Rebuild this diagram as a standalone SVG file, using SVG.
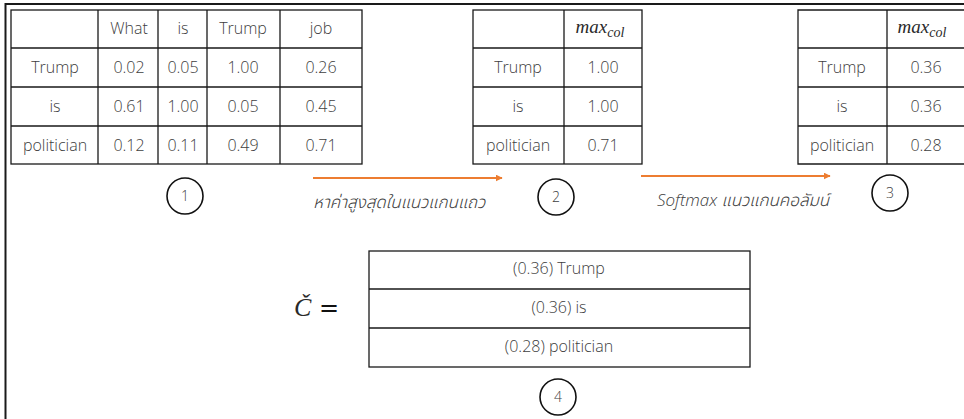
<svg xmlns="http://www.w3.org/2000/svg" width="964" height="419" viewBox="0 0 964 419" overflow="hidden">
  <defs>
    <marker id="arrowhead" viewBox="0 0 10 10" refX="9" refY="5" markerWidth="7" markerHeight="7" markerUnits="userSpaceOnUse" orient="auto">
      <path d="M0,0 L10,5 L0,10 z" fill="#ED7D31"/>
    </marker>
    <style>
      .grid { fill: none; stroke: #1a1a1a; stroke-width: 1.3; }
      .cell { font-family: "Open Sans", "Noto Sans", "Noto Sans Thai", sans-serif; font-weight: 300; font-size: 16px; fill: #404040; text-anchor: middle; }
      .math { font-family: "Liberation Serif", serif; font-style: italic; font-weight: normal; fill: #2a2a2a; }
      .caption { font-family: "Open Sans", "Noto Sans", "Noto Sans Thai", sans-serif; font-weight: 300; font-size: 17px; font-style: italic; fill: #404040; }
      .step { fill: #fff; stroke: #111; stroke-width: 1.6; }
      .stepnum { font-family: "Open Sans", "Noto Sans", sans-serif; font-weight: 300; font-size: 14px; fill: #404040; text-anchor: middle; }
      .flow { stroke: #ED7D31; stroke-width: 2; fill: none; }
    </style>
  </defs>

  <rect width="964" height="419" fill="#fff"/>
  <!-- outer frame: only the left and top edges fall inside the canvas -->
  <path d="M5.5,419V4H964" fill="none" stroke="#1a1a1a" stroke-width="2"/>

  <!-- table 1: attention scores -->
  <g id="table-scores">
    <rect class="grid" x="11" y="10" width="351" height="154"/>
    <path class="grid" d="M98,10V164 M158,10V164 M207,10V164 M280,10V164 M11,48H362 M11,87H362 M11,126H362"/>
    <text class="cell" x="129" y="34">What</text>
    <text class="cell" x="183" y="34">is</text>
    <text class="cell" x="243" y="34">Trump</text>
    <text class="cell" x="321" y="34">job</text>
    <text class="cell" x="55" y="73">Trump</text>
    <text class="cell" x="129" y="73">0.02</text>
    <text class="cell" x="183" y="73">0.05</text>
    <text class="cell" x="243" y="73">1.00</text>
    <text class="cell" x="321" y="73">0.26</text>
    <text class="cell" x="55" y="112">is</text>
    <text class="cell" x="129" y="112">0.61</text>
    <text class="cell" x="183" y="112">1.00</text>
    <text class="cell" x="243" y="112">0.05</text>
    <text class="cell" x="321" y="112">0.45</text>
    <text class="cell" x="55" y="151">politician</text>
    <text class="cell" x="129" y="151">0.12</text>
    <text class="cell" x="183" y="151">0.11</text>
    <text class="cell" x="243" y="151">0.49</text>
    <text class="cell" x="321" y="151">0.71</text>
  </g>

  <!-- table 2: column max -->
  <g id="table-max">
    <rect class="grid" x="473" y="10" width="169" height="154"/>
    <path class="grid" d="M564,10V164 M473,48H642 M473,87H642 M473,126H642"/>
    <text class="math" x="600" y="33" text-anchor="middle"><tspan font-size="19">max</tspan><tspan font-size="14" dy="4">col</tspan></text>
    <text class="cell" x="518" y="73">Trump</text>
    <text class="cell" x="603" y="73">1.00</text>
    <text class="cell" x="518" y="112">is</text>
    <text class="cell" x="603" y="112">1.00</text>
    <text class="cell" x="518" y="151">politician</text>
    <text class="cell" x="603" y="151">0.71</text>
  </g>

  <!-- table 3: softmax of column max (right edge runs past the canvas) -->
  <g id="table-softmax">
    <path class="grid" d="M964,10H798V164H964 M887,10V164 M798,48H964 M798,87H964 M798,126H964"/>
    <text class="math" x="922" y="33" text-anchor="middle"><tspan font-size="19">max</tspan><tspan font-size="14" dy="4">col</tspan></text>
    <text class="cell" x="842" y="73">Trump</text>
    <text class="cell" x="926" y="73">0.36</text>
    <text class="cell" x="842" y="112">is</text>
    <text class="cell" x="926" y="112">0.36</text>
    <text class="cell" x="842" y="151">politician</text>
    <text class="cell" x="926" y="151">0.28</text>
  </g>

  <!-- result vector -->
  <g id="result">
    <text class="math" x="294" y="316" font-size="26">Č</text>
    <text x="319" y="316" font-family="DejaVu Serif, serif" font-size="24" fill="#111">=</text>
    <rect class="grid" x="369" y="251" width="381" height="116"/>
    <path class="grid" d="M369,289H750 M369,328H750"/>
    <text class="cell" x="559" y="274">(0.36) Trump</text>
    <text class="cell" x="559" y="313">(0.36) is</text>
    <text class="cell" x="559" y="352">(0.28) politician</text>
  </g>

  <!-- step markers -->
  <g id="step-1"><circle class="step" cx="185" cy="196" r="18"/><text class="stepnum" x="185" y="201">1</text></g>
  <g id="step-2"><circle class="step" cx="556" cy="197" r="18"/><text class="stepnum" x="556" y="202">2</text></g>
  <g id="step-3"><circle class="step" cx="890" cy="193" r="18"/><text class="stepnum" x="890" y="198">3</text></g>
  <g id="step-4"><circle class="step" cx="558" cy="397" r="18"/><text class="stepnum" x="558" y="402">4</text></g>

  <!-- connectors -->
  <g id="connectors">
    <line class="flow" x1="313" y1="178" x2="502" y2="178" marker-end="url(#arrowhead)"/>
    <text class="caption" x="313" y="208">หาค่าสูงสุดในแนวแกนแถว</text>
    <line class="flow" x1="641" y1="176" x2="830" y2="176" marker-end="url(#arrowhead)"/>
    <text class="caption" x="657" y="206">Softmax แนวแกนคอลัมน์</text>
  </g>
</svg>
